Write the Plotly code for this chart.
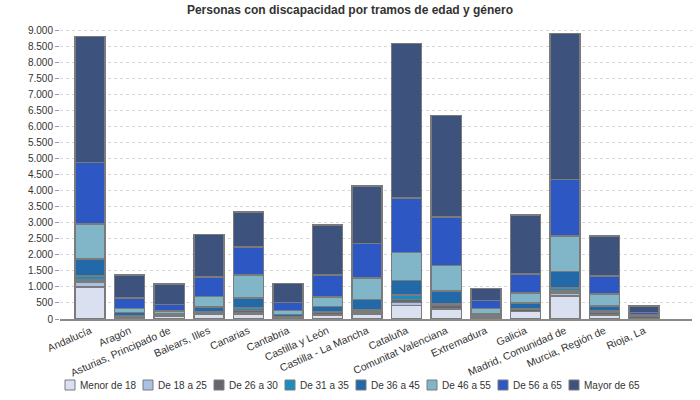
import plotly.graph_objects as go

regiones = ["Andalucía", "Aragón", "Asturias, Principado de", "Balears, Illes", "Canarias",
            "Cantabria", "Castilla y León", "Castilla - La Mancha", "Cataluña",
            "Comunitat Valenciana", "Extremadura", "Galicia", "Madrid, Comunidad de",
            "Murcia, Región de", "Rioja, La"]

menor_18 = [990, 45, 80, 140, 155, 30, 125, 160, 420, 290, 45, 230, 710, 105, 15]
de_18_25 = [156, 20, 15, 20, 45, 15, 20, 25, 100, 30, 10, 10, 95, 15, 5]
de_26_30 = [62, 25, 25, 60, 70, 25, 65, 65, 95, 110, 45, 70, 70, 90, 75]
de_31_35 = [136, 20, 15, 15, 75, 15, 15, 50, 130, 60, 25, 10, 90, 40, 5]
de_36_45 = [521, 90, 35, 135, 302, 60, 160, 310, 460, 375, 50, 180, 520, 155, 10]
de_46_55 = [1093, 125, 85, 335, 719, 120, 305, 665, 875, 810, 158, 305, 1095, 370, 10]
de_56_65 = [1927, 330, 190, 605, 875, 245, 685, 1085, 1690, 1500, 250, 595, 1775, 560, 80]
mayor_65 = [3917, 715, 650, 1330, 1093, 595, 1560, 1780, 4810, 3160, 375, 1840, 4540, 1250, 200]

series_names = ["Menor de 18", "De 18 a 25", "De 26 a 30", "De 31 a 35",
                "De 36 a 45", "De 46 a 55", "De 56 a 65", "Mayor de 65"]
series_values = [menor_18, de_18_25, de_26_30, de_31_35, de_36_45, de_46_55, de_56_65, mayor_65]
colors = ["#dae0f0", "#a9c1e5", "#64676d", "#1b8ebf", "#2169a8", "#81b6c9", "#2d58c3", "#3e527e"]

FONT = "Liberation Sans, Arial, sans-serif"
BORDER = "#7b7b7b"

fig = go.Figure()
for name, vals, col in zip(series_names, series_values, colors):
    fig.add_trace(go.Bar(
        x=regiones, y=vals, name=name, showlegend=False,
        marker=dict(color=col, line=dict(color=BORDER, width=1.5)),
    ))

# layout geometry (pixels)
W, H = 700, 400
ML, MR, MT, MB = 60, 8, 27, 81
PW, PH = W - ML - MR, H - MT - MB


def px_x(p):
    return (p - ML) / PW


def px_y(p):
    return (H - MB - p) / PH


# compact legend drawn like the reference (small squares, tight text)
text_widths = [56, 49, 49, 49, 49, 49, 49, 56]
shapes = []
annotations = []
x = 65
ly = 385
for name, col, tw in zip(series_names, colors, text_widths):
    shapes.append(dict(type="rect", xref="paper", yref="paper",
                       x0=px_x(x), x1=px_x(x + 10), y0=px_y(ly + 5), y1=px_y(ly - 5),
                       fillcolor=col, line=dict(color=BORDER, width=1)))
    annotations.append(dict(xref="paper", yref="paper", x=px_x(x + 13), y=px_y(ly),
                            xanchor="left", yanchor="middle", text=name, showarrow=False,
                            font=dict(family=FONT, size=10, color="#333333")))
    x += 13 + tw + 9

fig.update_layout(
    width=W, height=H,
    margin=dict(l=ML, r=MR, t=MT, b=MB),
    barmode="stack", bargap=0.24,
    paper_bgcolor="white", plot_bgcolor="white",
    separators=",.",
    font=dict(family=FONT, size=10, color="#333333"),
    title=dict(text="<b>Personas con discapacidad por tramos de edad y género</b>",
               x=0.5, xref="container", xanchor="center",
               y=1 - 9.5 / H, yref="container", yanchor="middle",
               font=dict(family=FONT, size=12, color="#333333")),
    xaxis=dict(type="category", range=[-0.76, 15.21], showgrid=False,
               showline=True, linecolor="#8a8a8a", linewidth=1.5,
               ticks="", tickangle=-24,
               tickfont=dict(family=FONT, size=10.5, color="#333333")),
    yaxis=dict(range=[0, 9100], dtick=500, tickformat=",d",
               showgrid=True, gridcolor="#d6d6d6", griddash="3px,3px", gridwidth=1,
               zeroline=False, showline=False,
               ticks="outside", ticklen=4, tickcolor="#9a9a9a",
               tickfont=dict(family=FONT, size=10, color="#333333")),
    shapes=shapes, annotations=annotations,
)

fig.write_html("out.html", config={"displayModeBar": False},
               post_script="document.body.style.margin='0';")
